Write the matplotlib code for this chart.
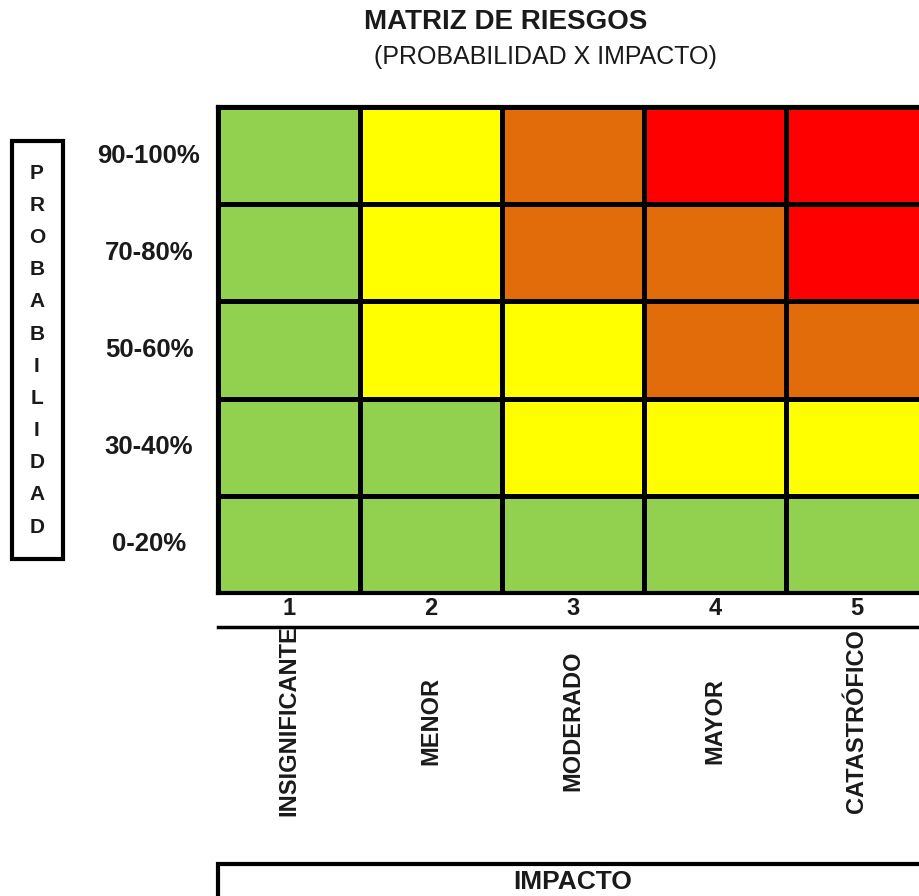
import numpy as np
import matplotlib.pyplot as plt
import matplotlib.transforms as mtransforms
from matplotlib.colors import ListedColormap
from matplotlib.patches import Rectangle

plt.rcParams['font.family'] = ['Liberation Sans', 'DejaVu Sans']

# --- Datos de la matriz ---
probabilidad = ["0-20%", "30-40%", "50-60%", "70-80%", "90-100%"]   # de abajo hacia arriba
impacto_num = [1, 2, 3, 4, 5]
impacto = ["INSIGNIFICANTE", "MENOR", "MODERADO", "MAYOR", "CATASTRÓFICO"]

# nivel de riesgo: 0 bajo, 1 medio, 2 alto, 3 extremo (filas de abajo hacia arriba)
riesgo = np.array([
    [0, 0, 0, 0, 0],
    [0, 0, 1, 1, 1],
    [0, 1, 1, 2, 2],
    [0, 1, 2, 2, 3],
    [0, 1, 2, 3, 3],
])
colores = ["#92D050", "#FFFF00", "#E36C0A", "#FF0000"]

# --- Figura en pixeles ---
W, H = 920, 896
def fx(px):
    return px / W
def fy(py):
    return 1 - py / H

fig = plt.figure(figsize=(W / 100, H / 100), dpi=100)
ax = fig.add_axes([fx(218), fy(593), 710 / W, (593 - 107) / H])

ax.pcolormesh(np.arange(6), np.arange(6), riesgo, cmap=ListedColormap(colores),
              vmin=-0.5, vmax=3.5, edgecolor="black", linewidth=2.5)
ax.set_xlim(0, 5)
ax.set_ylim(0, 5)
ax.set_xticks([])
ax.set_yticks([])
for s in ax.spines.values():
    s.set_linewidth(3)

txt = "#1a1a1a"
tr_y = mtransforms.blended_transform_factory(fig.transFigure, ax.transData)
tr_x = mtransforms.blended_transform_factory(ax.transData, fig.transFigure)

# etiquetas de probabilidad
for i, lab in enumerate(probabilidad):
    ax.text(fx(149), i + 0.5, lab, transform=tr_y, ha="center", va="center",
            fontsize=18.5, fontweight="bold", color=txt)

# numeros y nombres de impacto
for i, (n, lab) in enumerate(zip(impacto_num, impacto)):
    ax.text(i + 0.5, fy(608), str(n), transform=tr_x, ha="center", va="center",
            fontsize=17, fontweight="bold", color=txt)
    ax.text(i + 0.5, fy(721), lab, transform=tr_x, ha="center", va="center",
            rotation=90, fontsize=17, fontweight="bold", color=txt)

ax.plot([0, 5], [fy(627), fy(627)], transform=tr_x, color="black", lw=2.5, clip_on=False)

# caja IMPACTO
ax.add_patch(Rectangle((0, fy(910)), 5.5, fy(864) - fy(910), transform=tr_x,
                       fill=False, lw=3, edgecolor="black", clip_on=False))
ax.text(2.5, fy(882), "IMPACTO", transform=tr_x, ha="center", va="center",
        fontsize=19, fontweight="bold", color=txt)

# caja PROBABILIDAD
fig.add_artist(Rectangle((fx(12), fy(559)), fx(63) - fx(12), fy(141) - fy(559),
                         transform=fig.transFigure, fill=False, lw=3, edgecolor="black"))
for k, ch in enumerate("PROBABILIDAD"):
    fig.text(fx(37), fy(173 + k * 32.2), ch, ha="center", va="center",
             fontsize=15, fontweight="bold", color=txt)

# titulos
fig.text(fx(506), fy(22), "MATRIZ DE RIESGOS", ha="center", va="center",
         fontsize=20, fontweight="bold", color=txt)
fig.text(fx(545), fy(57), "(PROBABILIDAD X IMPACTO)", ha="center", va="center",
         fontsize=18, color=txt)

fig.savefig("out.png", dpi=100)
